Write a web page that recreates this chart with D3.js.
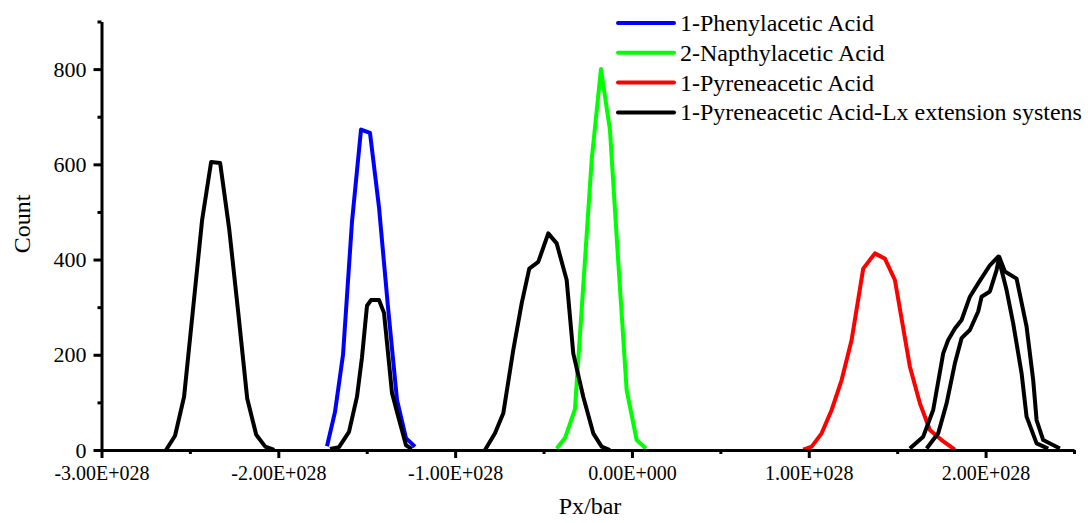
<!DOCTYPE html>
<html>
<head>
<meta charset="utf-8">
<script src="https://cdn.jsdelivr.net/npm/d3@7/dist/d3.min.js"></script>
</head>
<body style="margin:0;background:#fff">
<svg id="chart" width="1088" height="523"></svg>
<script>
// Pressure (Px, bar) distributions: counts per bin for each system.
const phenylX = [-1.7246e28, -1.6794e28, -1.6341e28, -1.5832e28, -1.5323e28, -1.4815e28, -1.4306e28, -1.3797e28, -1.3288e28, -1.2779e28, -1.2270e28];
const phenylY = [8, 80, 200, 480, 673, 666, 510, 300, 105, 25, 7];

const napthylX = [-0.4258e28, -0.3788e28, -0.3223e28, -0.2754e28, -0.2279e28, -0.1753e28, -0.1244e28, -0.0775e28, -0.0300e28, 0.0266e28, 0.0792e28];
const napthylY = [3, 25, 86, 345, 609, 800, 672, 395, 126, 21, 3];

const pyreneX = [0.9686e28, 1.0161e28, 1.0727e28, 1.1292e28, 1.1858e28, 1.2423e28, 1.3079e28, 1.3740e28, 1.4306e28, 1.4871e28, 1.5719e28, 1.6285e28, 1.6850e28, 1.7512e28, 1.8264e28];
const pyreneY = [1, 7, 35, 84, 147, 231, 381, 413, 402, 357, 175, 98, 42, 21, 1];

// Lx extension systems (all drawn in black under one legend entry)
const lx1X = [-2.635e28, -2.584e28, -2.533e28, -2.482e28, -2.431e28, -2.380e28, -2.329e28, -2.278e28, -2.227e28, -2.176e28, -2.125e28, -2.074e28, -2.023e28];
const lx1Y = [0, 30, 112, 297, 483, 605, 603, 465, 290, 108, 32, 7, 0];

const lx2X = [-1.7077e28, -1.6568e28, -1.6002e28, -1.5550e28, -1.5267e28, -1.4985e28, -1.4759e28, -1.4306e28, -1.4023e28, -1.3571e28, -1.3288e28, -1.2779e28, -1.2440e28];
const lx2Y = [2, 6, 38, 112, 195, 303, 315, 315, 288, 120, 80, 10, 2];

const lx3X = [-0.8312e28, -0.7747e28, -0.7277e28, -0.6712e28, -0.6237e28, -0.5807e28, -0.5298e28, -0.4733e28, -0.4258e28, -0.3692e28, -0.3319e28, -0.2754e28, -0.2188e28, -0.1713e28, -0.1244e28];
const lx3Y = [0, 35, 77, 210, 308, 381, 395, 455, 434, 357, 203, 112, 35, 7, 0];

const lx4X = [1.5719e28, 1.6472e28, 1.7037e28, 1.7603e28, 1.7885e28, 1.8264e28, 1.8643e28, 1.9112e28, 1.9581e28, 2.0243e28, 2.0712e28, 2.1187e28, 2.1561e28, 2.2036e28, 2.2318e28, 2.2884e28, 2.3540e28];
const lx4Y = [3, 28, 84, 203, 231, 255, 273, 322, 350, 388, 406, 336, 266, 161, 70, 14, 3];

const lx5X = [1.6664e28, 1.7320e28, 1.7795e28, 1.8264e28, 1.8643e28, 1.9112e28, 1.9581e28, 1.9774e28, 2.0243e28, 2.0622e28, 2.0769e28, 2.1091e28, 2.1753e28, 2.2318e28, 2.2692e28, 2.2884e28, 2.3257e28, 2.4201e28];
const lx5Y = [3, 35, 98, 182, 235, 252, 291, 322, 333, 378, 406, 375, 360, 259, 147, 63, 21, 3];

const legendLabels = ["1-Phenylacetic Acid", "2-Napthylacetic Acid", "1-Pyreneacetic Acid", "1-Pyreneacetic Acid-Lx extension systens"];
const seriesColors = ["#0000ff", "#00ff00", "#ff0000", "#000000"];

const xMajorTicks = [-3e28, -2e28, -1e28, 0, 1e28, 2e28];
const xMinorTicks = [-2.5e28, -1.5e28, -0.5e28, 0.5e28, 1.5e28, 2.5e28];
const yMajorTicks = [0, 200, 400, 600, 800];
const yMinorTicks = [100, 300, 500, 700, 900];

const xTitle = "Px/bar";
const yTitle = "Count";

const FONT = "Liberation Serif";

// ---- layout ----
const svg = d3.select("#chart");
const x = d3.scaleLinear().domain([-3e28, 2.5e28]).range([101.5, 1074]);
const y = d3.scaleLinear().domain([0, 900]).range([450, 21.5]);

// Scientific labels in the form -3.00E+028
function sciFormat(v) {
  if (v === 0) return "0.00E+000";
  const sign = v < 0 ? "-" : "";
  const a = Math.abs(v);
  let e = Math.floor(Math.log10(a));
  let m = a / Math.pow(10, e);
  if (m >= 9.995) { m /= 10; e += 1; }
  return sign + m.toFixed(2) + "E" + (e >= 0 ? "+" : "-") + String(Math.abs(e)).padStart(3, "0");
}

const zip = (xs, ys) => xs.map((d, i) => [d, ys[i]]);
const line = d3.line().x(d => x(d[0])).y(d => y(d[1]));

const curves = [
  { data: zip(phenylX, phenylY), color: seriesColors[0] },
  { data: zip(napthylX, napthylY), color: seriesColors[1] },
  { data: zip(pyreneX, pyreneY), color: seriesColors[2] },
  { data: zip(lx1X, lx1Y), color: seriesColors[3] },
  { data: zip(lx2X, lx2Y), color: seriesColors[3] },
  { data: zip(lx3X, lx3Y), color: seriesColors[3] },
  { data: zip(lx4X, lx4Y), color: seriesColors[3] },
  { data: zip(lx5X, lx5Y), color: seriesColors[3] }
];

svg.append("g")
  .selectAll("path")
  .data(curves)
  .join("path")
  .attr("d", d => line(d.data))
  .attr("fill", "none")
  .attr("stroke", d => d.color)
  .attr("stroke-width", 4)
  .attr("stroke-linejoin", "round")
  .attr("stroke-linecap", "butt");

// ---- axes ----
function styleAxis(g) {
  g.attr("font-family", FONT);
  g.select(".domain").attr("stroke", "#000").attr("stroke-width", 3);
  g.selectAll(".tick line").attr("stroke", "#000").attr("stroke-width", 3);
  g.selectAll(".tick text").attr("fill", "#000").attr("font-family", FONT);
}

// x axis: minor then major
svg.append("g")
  .attr("transform", "translate(0,450)")
  .call(d3.axisBottom(x).tickValues(xMinorTicks).tickSize(4).tickFormat(""))
  .call(g => { styleAxis(g); g.select(".domain").remove(); });

svg.append("g")
  .attr("transform", "translate(0,450)")
  .call(d3.axisBottom(x).tickValues(xMajorTicks).tickSize(8).tickSizeOuter(0).tickPadding(8).tickFormat(sciFormat))
  .call(styleAxis)
  .call(g => g.selectAll(".tick text").attr("font-size", 20));

// y axis: minor then major
svg.append("g")
  .attr("transform", "translate(101.5,0)")
  .call(d3.axisLeft(y).tickValues(yMinorTicks).tickSize(4).tickFormat(""))
  .call(g => { styleAxis(g); g.select(".domain").remove(); });

svg.append("g")
  .attr("transform", "translate(101.5,0)")
  .call(d3.axisLeft(y).tickValues(yMajorTicks).tickSize(8).tickSizeOuter(0).tickPadding(7).tickFormat(d3.format("d")))
  .call(styleAxis)
  .call(g => g.selectAll(".tick text").attr("font-size", 22));

// axis titles
svg.append("text")
  .attr("x", 590).attr("y", 514)
  .attr("text-anchor", "middle")
  .attr("font-family", FONT)
  .attr("font-size", 24)
  .text(xTitle);

svg.append("text")
  .attr("transform", "translate(30,224) rotate(-90)")
  .attr("text-anchor", "middle")
  .attr("font-family", FONT)
  .attr("font-size", 24)
  .text(yTitle);

// ---- legend ----
const legend = svg.append("g").attr("transform", "translate(618,23)");
const items = legend.selectAll("g")
  .data(legendLabels)
  .join("g")
  .attr("transform", (d, i) => `translate(0,${i * 29.8})`);
items.append("line")
  .attr("x1", 0).attr("x2", 56)
  .attr("y1", 0).attr("y2", 0)
  .attr("stroke", (d, i) => seriesColors[i])
  .attr("stroke-width", 4)
  .attr("stroke-linecap", "round");
items.append("text")
  .attr("x", 62).attr("y", 8)
  .attr("font-family", FONT)
  .attr("font-size", 24)
  .attr("fill", "#000")
  .text(d => d);
</script>
</body>
</html>
